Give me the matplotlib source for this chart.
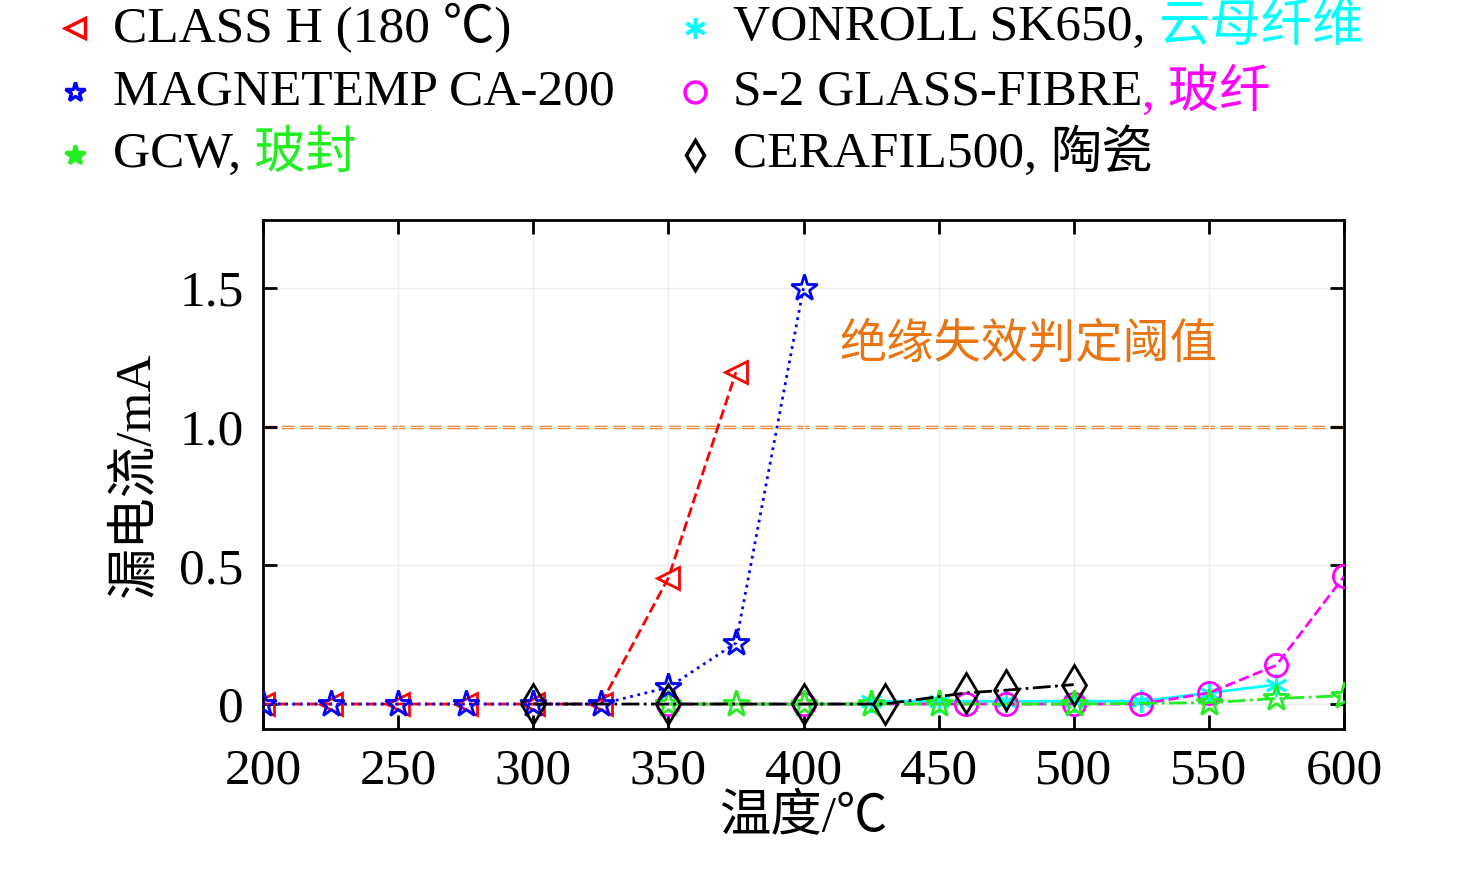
import matplotlib
matplotlib.use("Agg")
import matplotlib.pyplot as plt
from matplotlib.lines import Line2D

plt.rcParams['font.family'] = ['Liberation Serif', 'Noto Sans CJK SC', 'DejaVu Sans']

classh_x = [200, 225, 250, 275, 300, 325, 350, 375]
classh_y = [0, 0, 0, 0, 0, 0, 0.455, 1.196]
mag_x = [200, 225, 250, 275, 300, 325, 350, 375, 400]
mag_y = [0, 0, 0, 0, 0, 0, 0.06, 0.22, 1.5]
gcw_x = [350, 375, 400, 425, 450, 500, 550, 575, 600]
gcw_y = [0, 0, 0, 0, 0, 0, 0.005, 0.02, 0.03]
von_x = [425, 450, 475, 500, 525, 550, 575]
von_y = [0.01, 0.01, 0.01, 0.01, 0.01, 0.04, 0.07]
s2_x = [350, 400, 460, 475, 500, 525, 550, 575, 600]
s2_y = [0, 0, 0, 0, 0, 0, 0.04, 0.14, 0.46]
cera_x = [300, 350, 400, 430, 460, 475, 500]
cera_y = [0, 0, 0, 0, 0.04, 0.05, 0.07]
threshold = 1.0
xticks = [200, 250, 300, 350, 400, 450, 500, 550, 600]
yticks = [0, 0.5, 1.0, 1.5]
ytlabels = ['0', '0.5', '1.0', '1.5']

FS = 37
fig = plt.figure(figsize=(14.76, 8.82), dpi=100)
ax = fig.add_axes([263/1476, 1-729/882, (1344-263)/1476, (729-220)/882])
ms = 16
ax.plot(von_x, von_y, color='cyan', ls='-', lw=2, marker=(6, 2, 0), ms=ms, mew=2, zorder=3)
ax.plot(s2_x, s2_y, color='magenta', ls='--', lw=2, marker='o', mfc='none', ms=ms, mew=2, zorder=3)
ax.plot(gcw_x, gcw_y, color='#22ee22', ls='-.', lw=2, marker='*', ms=ms+4, mfc='none', mew=2, zorder=3)
ax.plot(cera_x, cera_y, color='black', ls='-.', lw=2, marker='d', mfc='none', ms=ms+4, mew=2, zorder=4)
ax.plot(classh_x, classh_y, color='red', ls='--', lw=2, marker='<', mfc='none', ms=ms, mew=2, zorder=2)
ax.plot(mag_x, mag_y, color='blue', ls=':', lw=2, marker='*', mfc='none', ms=ms+4, mew=2, zorder=3)
ax.axhline(threshold, color='#e87511', ls='--', lw=2.5, zorder=1)
ax.text(0.533, 0.755, '绝缘失效判定阈值', transform=ax.transAxes, color='#e87511', fontsize=34,
        va='center', family=['Noto Sans CJK SC'])

ax.set_xlim(200, 600)
ax.set_ylim(-0.09, 1.745)
ax.set_xticks(xticks)
ax.set_yticks(yticks)
ax.set_yticklabels(ytlabels)
ax.tick_params(direction='in', top=True, right=True, labelsize=FS, length=10, width=2, pad=14)
ax.grid(True, color='#eeeeee', lw=1)
for s in ax.spines.values():
    s.set_linewidth(2)
ax.set_xlabel('温度/℃', fontsize=FS, labelpad=0)
ax.set_ylabel('漏电流/mA', fontsize=FS, labelpad=14)

entries = [
    (75, 28, dict(color='red', marker='<', mfc='none'), 'CLASS H (180 ℃)', None, None),
    (75, 92, dict(color='blue', marker='*', mfc='none'), 'MAGNETEMP CA-200', None, None),
    (75, 155, dict(color='#22ee22', marker='*'), 'GCW, ', '玻封', '#22ee22'),
    (695, 28, dict(color='cyan', marker=(6, 2, 0)), 'VONROLL SK650, ', '云母纤维', 'cyan'),
    (695, 92, dict(color='magenta', marker='o', mfc='none'), 'S-2 GLASS-FIBRE', ', 玻纤', 'magenta'),
    (695, 155, dict(color='black', marker='d', mfc='none'), 'CERAFIL500, ', '陶瓷', 'black'),
]
for px, py, mk, t1, t2, c2 in entries:
    fx, fy = px/1476, 1-py/882
    fig.add_artist(Line2D([fx], [fy], transform=fig.transFigure, ms=15, mew=2.5, ls='none', **mk))
    tt = fig.text(fx + 38/1476, fy, t1, fontsize=FS, va='center', ha='left')
    if t2:
        ax.annotate(t2, xy=(1, 0.5), xycoords=tt, va='center', ha='left', fontsize=FS, color=c2)

fig.savefig('out.png', dpi=100)
